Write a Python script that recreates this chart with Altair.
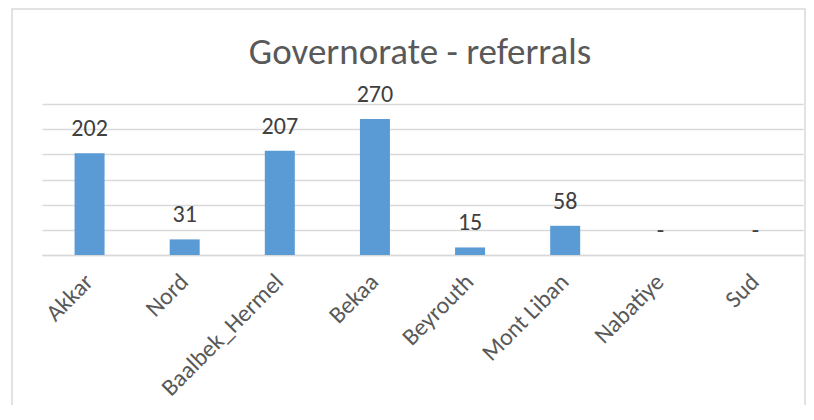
import altair as alt
import pandas as pd

governorates = ["Akkar", "Nord", "Baalbek_Hermel", "Bekaa", "Beyrouth", "Mont Liban", "Nabatiye", "Sud"]
referrals = [202, 31, 207, 270, 15, 58, 0, 0]
value_labels = ["202", "31", "207", "270", "15", "58", "-", "-"]
title_text = ["Governorate - referrals"]
grid_values = [0, 50, 100, 150, 200, 250, 300]

df = pd.DataFrame({"gov": governorates, "n": referrals, "lbl": value_labels})
tdf = pd.DataFrame({"t": title_text})

FONT = "Carlito, Open Sans"
W, H = 761, 151

x = alt.X("gov:N", sort=governorates, title=None,
          scale=alt.Scale(paddingInner=0.68, paddingOuter=0.34),
          axis=alt.Axis(labelAngle=-45, labelAlign="right", labelBaseline="middle",
                        labelFontSize=24, labelColor="#595959", labelFont=FONT,
                        ticks=False, domain=True, domainColor="#D9D9D9", domainWidth=1.5,
                        labelPadding=23))
y = alt.Y("n:Q", title=None, scale=alt.Scale(domain=[0, 300], nice=False),
          axis=alt.Axis(values=grid_values, labels=False, ticks=False,
                        domain=False, grid=True, gridColor="#D9D9D9", gridWidth=1.5))

border = alt.Chart(tdf).mark_rect(fill=None, stroke="#D9D9D9", strokeWidth=1.5).encode(
    x=alt.value(-30), x2=alt.value(763), y=alt.value(-95), y2=alt.value(400)
)

title = alt.Chart(tdf).mark_text(fontSize=37, font=FONT, color="#595959",
                                 baseline="alphabetic", align="center").encode(
    x=alt.value(378), y=alt.value(-40), text="t:N"
)

bars = alt.Chart(df).mark_bar(color="#5B9BD5", size=30).encode(x=x, y=y)

labels = alt.Chart(df).mark_text(dy=-17, fontSize=24, color="#404040", font=FONT,
                                 baseline="alphabetic").encode(
    x=x, y=y, text="lbl:N"
)

chart = alt.layer(border, bars, labels, title).properties(
    width=W, height=H,
    autosize=alt.AutoSizeParams(type="none"),
    padding={"left": 34, "top": 96, "right": 3, "bottom": 150},
).configure(background="white", view=alt.ViewConfig(stroke=None))

chart.save("out.html", embed_options={"renderer": "svg", "actions": False})
